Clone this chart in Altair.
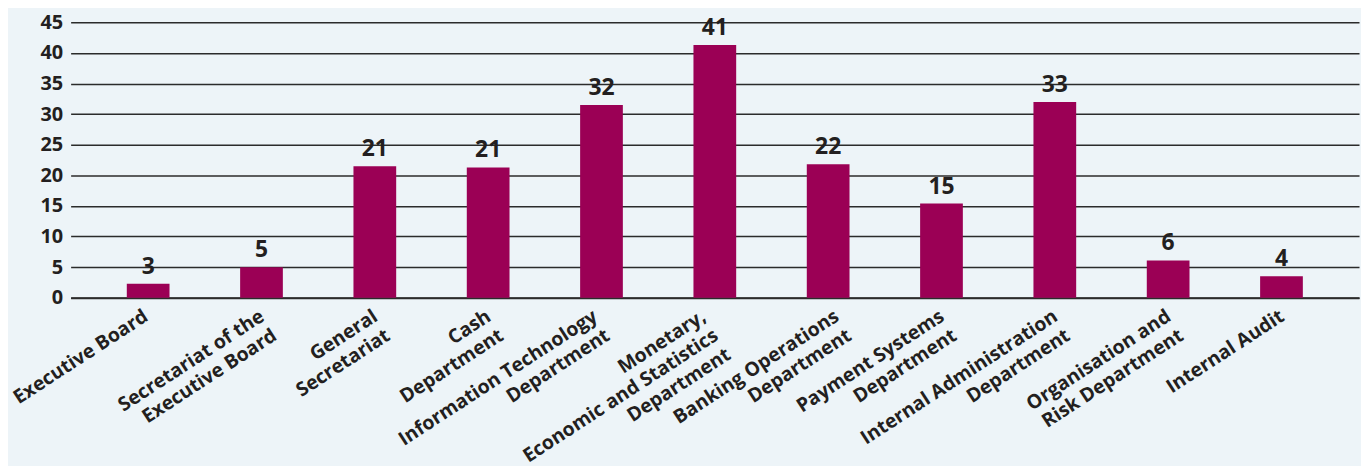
import altair as alt
import pandas as pd

categories = [
    "Executive Board",
    "Secretariat of the|Executive Board",
    "General|Secretariat",
    "Cash|Department",
    "Information Technology|Department",
    "Monetary,|Economic and Statistics|Department",
    "Banking Operations|Department",
    "Payment Systems|Department",
    "Internal Administration|Department",
    "Organisation and|Risk Department",
    "Internal Audit",
]
bar_values = [2.3, 5.0, 21.5, 21.3, 31.5, 41.3, 21.8, 15.4, 32.0, 6.1, 3.5]
value_labels = [3, 5, 21, 21, 32, 41, 22, 15, 33, 6, 4]
y_ticks = [0, 5, 10, 15, 20, 25, 30, 35, 40, 45]

df = pd.DataFrame({"cat": categories, "val": bar_values, "lab": value_labels})

FONT = "Open Sans"
TXT = "#231f20"
BAR = "#9b0055"
BG = "#edf4f8"

label_offset = {
    "condition": [
        {"test": "indexof(datum.value, 'Executive Board') == 0", "value": -7},
        {"test": "indexof(datum.value, 'Monetary') == 0", "value": -16},
        {"test": "indexof(datum.value, 'Information') == 0", "value": -11},
        {"test": "indexof(datum.value, 'Banking') == 0", "value": 4},
    ],
    "value": -4,
}

x = alt.X(
    "cat:N",
    sort=None,
    title=None,
    scale=alt.Scale(paddingInner=0.623, paddingOuter=0.4956),
    axis=alt.Axis(
        labelAngle=-33,
        labelAlign="right",
        labelBaseline="top",
        labelExpr="split(datum.label, '|')",
        labelLineHeight=23,
        labelFont=FONT,
        labelFontWeight="bold",
        labelFontSize=19.5,
        labelColor=TXT,
        labelPadding=9,
        labelOffset=label_offset,
        labelLimit=0,
        labelOverlap=False,
        ticks=False,
        domain=True,
        domainColor="#2b2b2b",
        domainWidth=2.2,
        grid=False,
    ),
)

y = alt.Y(
    "val:Q",
    title=None,
    scale=alt.Scale(domain=[0, 45], nice=False),
    axis=alt.Axis(
        values=y_ticks,
        labelFont=FONT,
        labelFontWeight="bold",
        labelFontSize=20,
        labelColor=TXT,
        labelPadding=8,
        labelOverlap=False,
        labelBaseline="middle",
        ticks=False,
        domain=False,
        grid=True,
        gridColor="#2b2b2b",
        gridWidth=1.5,
    ),
)

bars = alt.Chart(df).mark_bar(color=BAR).encode(x=x, y=y)

texts = alt.Chart(df).mark_text(
    font=FONT,
    fontWeight="bold",
    fontSize=23,
    color=TXT,
    baseline="alphabetic",
    align="center",
    dy=-10,
).encode(x=x, y=y, text=alt.Text("lab:Q"))

chart = (
    alt.layer(bars, texts)
    .properties(
        width=1296,
        height=277,
        background=BG,
        padding={"left": 63, "top": 13, "right": 2, "bottom": 200},
        autosize=alt.AutoSizeParams(type="none"),
    )
    .configure_view(stroke=None)
)

chart.save("out.html", embed_options={"renderer": "svg", "actions": False})
